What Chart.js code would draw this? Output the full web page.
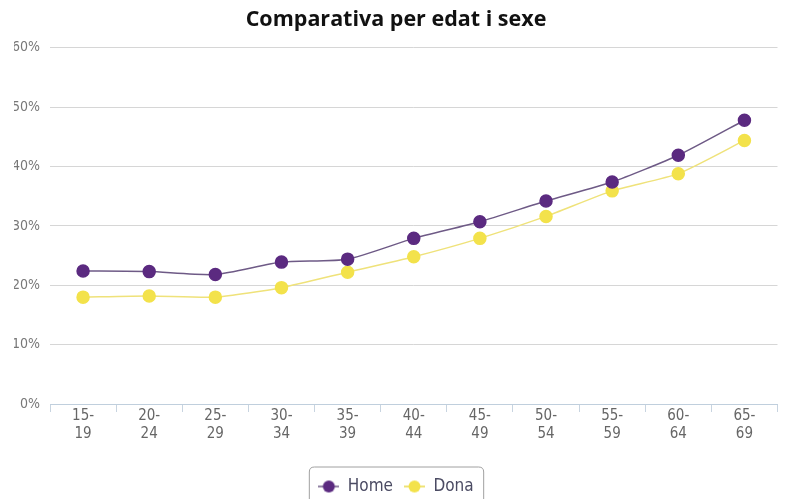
<!DOCTYPE html>
<html><head><meta charset="utf-8">
<script src="https://cdn.jsdelivr.net/npm/chart.js@4"></script>
<style>html,body{margin:0;padding:0;background:#fff}#wrap{width:785px;height:499px}</style>
</head><body><div id="wrap"><canvas id="c"></canvas></div>
<script>
const categories = [['15-','19'],['20-','24'],['25-','29'],['30-','34'],['35-','39'],['40-','44'],['45-','49'],['50-','54'],['55-','59'],['60-','64'],['65-','69']];
const home = [22.4, 22.3, 21.8, 23.9, 24.4, 27.9, 30.7, 34.2, 37.4, 41.9, 47.8];
const dona = [18.0, 18.2, 18.0, 19.6, 22.2, 24.8, 27.9, 31.6, 35.9, 38.8, 44.4];
const yTicks = [0, 10, 20, 30, 40, 50, 60];

const PURPLE = '#5b2a80', YELLOW = '#f3e24b';
const HOME_LINE = '#6e5a86', DONA_LINE = '#efe27a';
const FONT = 'Liberation Sans Narrow, DejaVu Sans Condensed, sans-serif';
function legendIcon(color, lineColor){
  const c = document.createElement('canvas'); c.width = 21; c.height = 14;
  const g = c.getContext('2d');
  g.strokeStyle = lineColor; g.lineWidth = 1.5;
  g.beginPath(); g.moveTo(0,7); g.lineTo(21,7); g.stroke();
  g.fillStyle = color; g.beginPath(); g.arc(10.5,7,6,0,Math.PI*2); g.fill();
  return c;
}
const legendBox = {
  id:'legendBox',
  afterDraw(chart){
    const l = chart.legend; if(!l || !l.legendHitBoxes.length) return;
    const hb = l.legendHitBoxes;
    const x0 = hb[0].left - 9, x1 = hb[hb.length-1].left + hb[hb.length-1].width + 10;
    const y0 = hb[0].top - 11, y1 = hb[0].top + hb[0].height + 14;
    const ctx = chart.ctx; ctx.save();
    ctx.strokeStyle = '#a0a0a0'; ctx.lineWidth = 1;
    const r = 5;
    ctx.beginPath();
    ctx.moveTo(x0+r,y0); ctx.lineTo(x1-r,y0); ctx.quadraticCurveTo(x1,y0,x1,y0+r);
    ctx.lineTo(x1,y1-r); ctx.quadraticCurveTo(x1,y1,x1-r,y1);
    ctx.lineTo(x0+r,y1); ctx.quadraticCurveTo(x0,y1,x0,y1-r);
    ctx.lineTo(x0,y0+r); ctx.quadraticCurveTo(x0,y0,x0+r,y0);
    ctx.stroke(); ctx.restore();
  }
};
new Chart(document.getElementById('c'), {
  type:'line',
  data:{
    labels: categories,
    datasets:[
      {label:'Home', data:home, borderColor:HOME_LINE, backgroundColor:PURPLE, pointBackgroundColor:PURPLE, pointBorderColor:PURPLE, borderWidth:1.5, pointRadius:6, pointHoverRadius:6, tension:0.2},
      {label:'Dona', data:dona, borderColor:DONA_LINE, backgroundColor:YELLOW, pointBackgroundColor:YELLOW, pointBorderColor:YELLOW, borderWidth:1.5, pointRadius:6, pointHoverRadius:6, tension:0.2}
    ]
  },
  options:{
    responsive:true, maintainAspectRatio:false, animation:false,
    events:[],
    layout:{padding:{left:14,right:7,top:4,bottom:-6}},
    plugins:{
      title:{display:true, text:'Comparativa per edat i sexe', color:'#111', font:{family:'Open Sans', size:21.5, weight:'bold'}, padding:{top:3,bottom:15}},
      legend:{position:'bottom', labels:{
        usePointStyle:true, pointStyleWidth:21, color:'#4b4b63', font:{family:FONT, size:17}, padding:11,
        generateLabels(chart){
          return chart.data.datasets.map((d,i)=>({text:d.label, pointStyle: legendIcon(d.pointBackgroundColor, i===0 ? HOME_LINE : '#e8d84a'), fillStyle:d.pointBackgroundColor, strokeStyle:d.borderColor, lineWidth:0, datasetIndex:i, fontColor:'#4b4b63'}));
        }
      }},
      tooltip:{enabled:false}
    },
    scales:{
      x:{offset:true,
        afterFit(s){ s.height = 63; },
        grid:{offset:true, drawOnChartArea:false, drawTicks:true, tickLength:8, color:'#c8d4e0'},
        border:{display:true, color:'#c0cfdd', width:1},
        ticks:{color:'#666', font:{family:FONT, size:15}, maxRotation:0, padding:-5}
      },
      y:{min:0, max:60,
        afterFit(s){ s.width = 36; },
        afterBuildTicks(s){ s.ticks = yTicks.map(v=>({value:v})); },
        grid:{color:'#d6d6d6', drawTicks:false, lineWidth:1},
        border:{display:false},
        ticks:{color:'#777', font:{family:FONT, size:14}, padding:10, callback:v=>v+'%'}
      }
    }
  },
  plugins:[legendBox]
});
</script></body></html>
